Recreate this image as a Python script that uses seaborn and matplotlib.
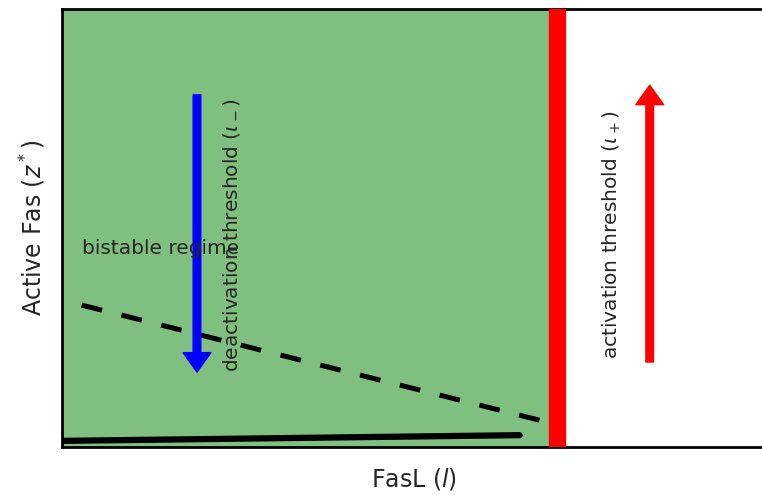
import numpy as np
import pandas as pd
import seaborn as sns
import matplotlib
matplotlib.use("Agg")
import matplotlib.pyplot as plt

# data (axes-normalised units)
threshold_x = 0.704
solid_x = [0.0, 0.651]
solid_y = [0.014, 0.027]
dashed_x = [0.028, 0.712]
dashed_y = [0.324, 0.048]
deact_arrow_x = 0.192
deact_arrow_y = [0.804, 0.171]
act_arrow_x = 0.836
act_arrow_y = [0.194, 0.826]

sns.set_style("white")
plt.rcParams['font.family'] = ['DejaVu Sans']

fig = plt.figure(figsize=(7.62, 4.95), dpi=100)
ax = fig.add_axes([62/762, 48/495, 703/762, 438/495])

ax.axvspan(0, threshold_x, color='green', alpha=0.5, lw=0, zorder=0)
ax.axvline(threshold_x, color='red', lw=12.5, zorder=4)

sns.lineplot(x=solid_x, y=solid_y, ax=ax, color='black', lw=4.5, zorder=3)
dashed = pd.DataFrame({'x': dashed_x, 'y': dashed_y})
sns.lineplot(data=dashed, x='x', y='y', ax=ax, color='black', lw=3.6, zorder=3)
ax.lines[-1].set_dashes((4.2, 4.0))

ax.annotate('', xy=(deact_arrow_x, deact_arrow_y[1]), xytext=(deact_arrow_x, deact_arrow_y[0]),
            arrowprops=dict(color='blue', width=5.5, headwidth=20, headlength=14), zorder=4)
ax.annotate('', xy=(act_arrow_x, act_arrow_y[1]), xytext=(act_arrow_x, act_arrow_y[0]),
            arrowprops=dict(color='red', width=5.5, headwidth=20, headlength=14), zorder=4)

ax.text(0.028, 0.454, 'bistable regime', fontsize=14.5, ha='left', va='center', zorder=5)
ax.text(0.242, 0.484, r'deactivation threshold ($\iota_-$)', fontsize=14.5, rotation=90,
        ha='center', va='center', zorder=5)
ax.text(0.782, 0.484, r'activation threshold ($\iota_+$)', fontsize=14.5, rotation=90,
        ha='center', va='center', zorder=5)

ax.set_xlim(0, 1)
ax.set_ylim(0, 1)
ax.set_xticks([])
ax.set_yticks([])
ax.set_xlabel(r'FasL ($l$)', fontsize=17, labelpad=14)
ax.set_ylabel(r'Active Fas ($z^*$)', fontsize=17, labelpad=10)
for s in ax.spines.values():
    s.set_linewidth(2)
    s.set_color('black')

fig.savefig('out.png', dpi=100)
